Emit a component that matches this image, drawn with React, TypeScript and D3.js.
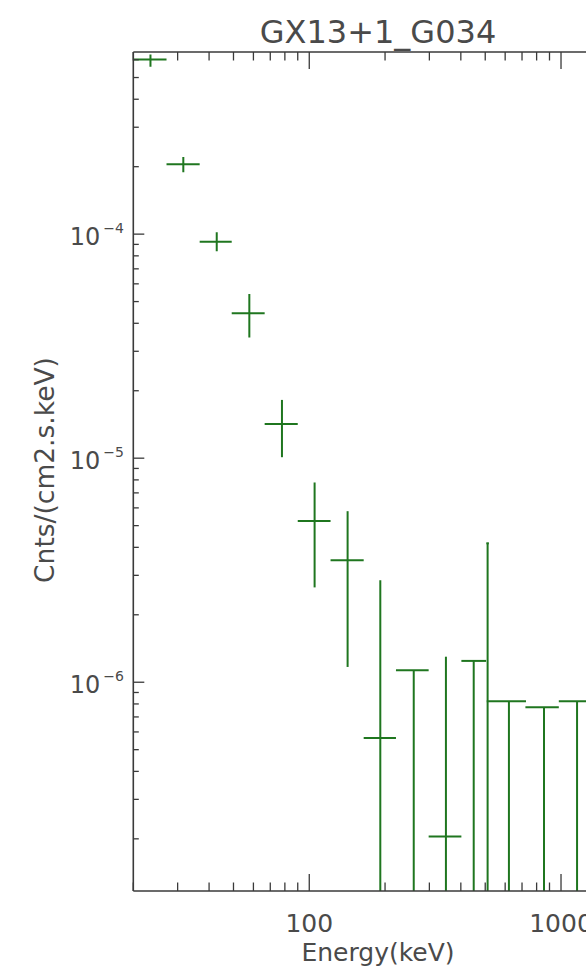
import React from "react";
import * as d3 from "d3";

// ---- data ----
const titleText = "GX13+1_G034";
const xLabel = "Energy(keV)";
const yLabel = "Cnts/(cm2.s.keV)";

const energyLo = [20, 27.1, 36.7, 49.2, 66.5, 90.0, 121.5, 164.5, 221, 298, 402, 505, 507, 722, 980];
const energyHi = [27.1, 36.7, 49.2, 66.5, 90.0, 121.5, 164.5, 221, 298, 402, 504, 517, 726, 980, 1380];
const energyMid = [23.4, 31.6, 42.9, 57.8, 77.9, 105, 142, 191.5, 260, 349, 450, 511, 621, 856, 1158];
const flux = [6.02e-4, 2.05e-4, 9.24e-5, 4.43e-5, 1.42e-5, 5.25e-6, 3.5e-6, 5.64e-7, 1.13e-6, 2.05e-7, 1.245e-6, 4.17e-6, 8.23e-7, 7.73e-7, 8.23e-7];
const fluxLo = [5.58e-4, 1.89e-4, 8.39e-5, 3.46e-5, 1.01e-5, 2.65e-6, 1.17e-6, 0, 0, 0, 0, 0, 0, 0, 0];
const fluxHi = [6.34e-4, 2.21e-4, 1.02e-4, 5.4e-5, 1.82e-5, 7.79e-6, 5.8e-6, 2.85e-6, 1.13e-6, 1.3e-6, 1.245e-6, 4.17e-6, 8.23e-7, 7.73e-7, 8.23e-7];

const xDomain = [20, 2000];
const yDomain = [1.17e-7, 6.5e-4];
const xMajorTicks = [100, 1000];
const yMajorTicks = [1e-6, 1e-5, 1e-4];
const yTickExp = ["−6", "−5", "−4"];

// ---- layout ----
const W = 586;
const H = 973;
const left = 133.3;
const right = 636.8;
const top = 52;
const bottom = 891;

const axisColor = "#3a3a3a";
const textColor = "#4a4a4a";
const green = "#1f761f";
const font = "DejaVu Sans, Verdana, sans-serif";

export default function App() {
  const x = d3.scaleLog().domain(xDomain).range([left, right]);
  const y = d3.scaleLog().domain(yDomain).range([bottom, top]);

  // minor ticks
  const xMinor: number[] = [];
  for (let dec = 10; dec <= 1000; dec *= 10) {
    for (let m = 2; m <= 9; m++) {
      const v = m * dec;
      if (v >= xDomain[0] && v <= xDomain[1]) xMinor.push(v);
    }
  }
  const yMinor: number[] = [];
  for (let dec = 1e-7; dec <= 1e-4 * 1.01; dec *= 10) {
    for (let m = 2; m <= 9; m++) {
      const v = m * dec;
      if (v >= yDomain[0] && v <= yDomain[1]) yMinor.push(v);
    }
  }

  const xMajLen = 17;
  const xMinLen = 8.5;
  const yMajLen = 11;
  const yMinLen = 5.5;

  const clampY = (v: number) => (v <= 0 ? bottom + 2 : y(v));

  return (
    <svg
      width={W}
      height={H}
      style={{ position: "absolute", left: 0, top: 0, background: "#fff" }}
      fontFamily={font}
    >
      <rect x={0} y={0} width={W} height={H} fill="#fff" />
      <defs>
        <clipPath id="plotClip">
          <rect x={left} y={top} width={right - left} height={bottom - top} />
        </clipPath>
      </defs>

      {/* title */}
      <text x={378} y={43} fontSize={32} textAnchor="middle" fill={textColor}>
        {titleText}
      </text>

      {/* data */}
      <g clipPath="url(#plotClip)" stroke={green} strokeWidth={2} fill="none">
        {flux.map((f, i) => (
          <g key={i}>
            <line x1={x(energyLo[i])} x2={x(energyHi[i])} y1={y(f)} y2={y(f)} />
            <line
              x1={x(energyMid[i])}
              x2={x(energyMid[i])}
              y1={y(fluxHi[i])}
              y2={clampY(fluxLo[i])}
            />
          </g>
        ))}
      </g>

      {/* axes frame */}
      <g stroke={axisColor} strokeWidth={1.6} fill="none">
        <line x1={left} x2={right} y1={bottom} y2={bottom} />
        <line x1={left} x2={right} y1={top} y2={top} />
        <line x1={left} x2={left} y1={top} y2={bottom} />
        <line x1={right} x2={right} y1={top} y2={bottom} />
      </g>

      {/* ticks */}
      <g stroke={axisColor} strokeWidth={1.3}>
        {xMajorTicks.map((t) => (
          <g key={"xM" + t}>
            <line x1={x(t)} x2={x(t)} y1={bottom} y2={bottom - xMajLen} />
            <line x1={x(t)} x2={x(t)} y1={top} y2={top + xMajLen} />
          </g>
        ))}
        {xMinor.map((t) => (
          <g key={"xm" + t}>
            <line x1={x(t)} x2={x(t)} y1={bottom} y2={bottom - xMinLen} />
            <line x1={x(t)} x2={x(t)} y1={top} y2={top + xMinLen} />
          </g>
        ))}
        {yMajorTicks.map((t) => (
          <g key={"yM" + t}>
            <line x1={left} x2={left + yMajLen} y1={y(t)} y2={y(t)} />
            <line x1={right} x2={right - yMajLen} y1={y(t)} y2={y(t)} />
          </g>
        ))}
        {yMinor.map((t) => (
          <g key={"ym" + t}>
            <line x1={left} x2={left + yMinLen} y1={y(t)} y2={y(t)} />
            <line x1={right} x2={right - yMinLen} y1={y(t)} y2={y(t)} />
          </g>
        ))}
      </g>

      {/* x tick labels */}
      {xMajorTicks.map((t) => (
        <text
          key={"xl" + t}
          x={x(t)}
          y={932}
          fontSize={25}
          textAnchor="middle"
          fill={textColor}
        >
          {d3.format("d")(t)}
        </text>
      ))}

      {/* y tick labels */}
      {yMajorTicks.map((t, i) => (
        <text
          key={"yl" + t}
          x={124}
          y={y(t) + 11}
          fontSize={24}
          textAnchor="end"
          fill={textColor}
        >
          10
          <tspan fontSize={14} dy={-12} dx={3}>
            {yTickExp[i]}
          </tspan>
        </text>
      ))}

      {/* axis labels */}
      <text x={378} y={961} fontSize={25} textAnchor="middle" fill={textColor}>
        {xLabel}
      </text>
      <text
        transform={`translate(54, 470) rotate(-90)`}
        fontSize={26.5}
        textAnchor="middle"
        fill={textColor}
      >
        {yLabel}
      </text>
    </svg>
  );
}
